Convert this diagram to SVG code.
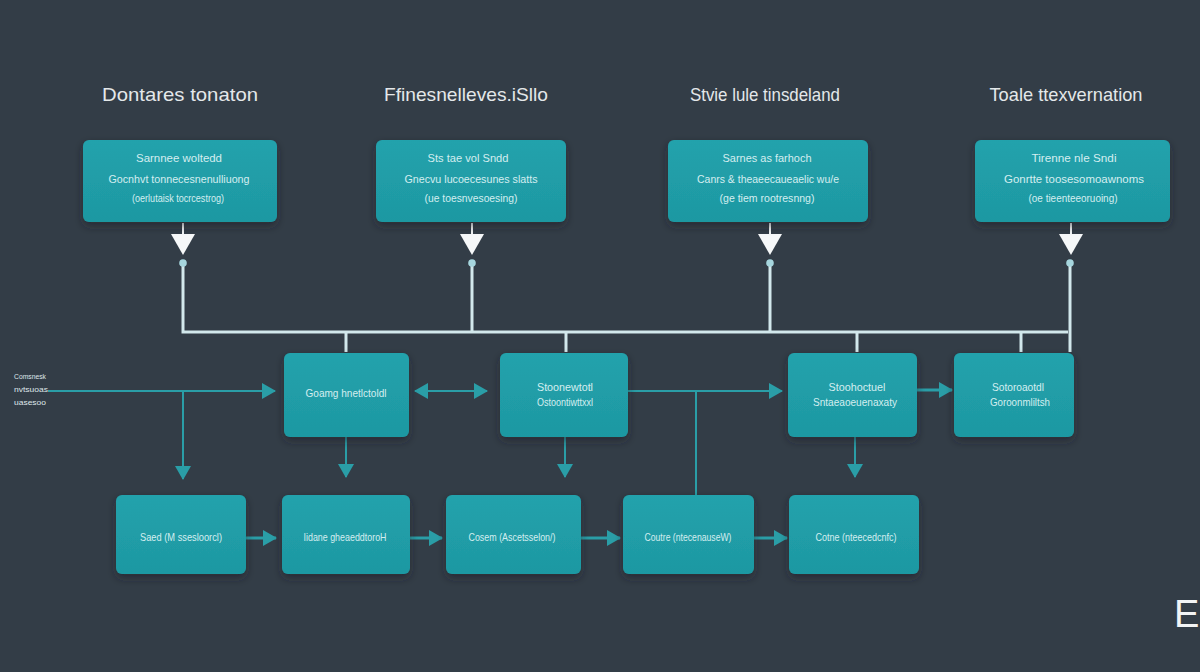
<svg xmlns="http://www.w3.org/2000/svg" width="1200" height="672" viewBox="0 0 1200 672">
<style>
.bg{fill:#333d47}
.box{fill:url(#tg);filter:url(#sh)}
.h{font-family:"Liberation Sans",Arial,sans-serif;font-size:19px;fill:#e4e8ea;text-anchor:middle}
.t{font-family:"Liberation Sans",Arial,sans-serif;font-size:11px;fill:#d4eef0;text-anchor:middle}
.s{font-family:"Liberation Sans",Arial,sans-serif;font-size:8px;fill:#dfe6ea}
.tl{stroke:#2a9ea7;stroke-width:2;fill:none}
.tb{stroke:#2a9ea7;stroke-width:3;fill:none}
.wl{stroke:#d2e8ec;stroke-width:3;fill:none}
.ws{stroke:#f2f5f6;stroke-width:2;fill:none}
.head{fill:#f6f8f9}
.dot{fill:#a6d6de}
</style>
<defs>
<linearGradient id="tg" x1="0" y1="0" x2="0" y2="1">
<stop offset="0" stop-color="#22a2ac"/>
<stop offset="1" stop-color="#1e98a2"/>
</linearGradient>
<filter id="sh" x="-20%" y="-20%" width="140%" height="150%">
<feDropShadow dx="0" dy="4" stdDeviation="4" flood-color="#1a2028" flood-opacity="0.55"/>
</filter>
<marker id="ah" viewBox="0 0 14 16" refX="13" refY="8" markerWidth="14" markerHeight="16" markerUnits="userSpaceOnUse" orient="auto-start-reverse">
<path d="M0,0 L14,8 L0,16 z" fill="#2a9ea7"/>
</marker>
</defs>
<rect class="bg" x="0" y="0" width="1200" height="672"/>

<g id="headings">
<text class="h" x="180" y="101" textLength="156" lengthAdjust="spacingAndGlyphs">Dontares tonaton</text>
<text class="h" x="466" y="101" textLength="164" lengthAdjust="spacingAndGlyphs">Ffinesnelleves.iSllo</text>
<text class="h" x="765" y="101" textLength="150" lengthAdjust="spacingAndGlyphs">Stvie lule tinsdeland</text>
<text class="h" x="1066" y="101" textLength="153" lengthAdjust="spacingAndGlyphs">Toale ttexvernation</text>
</g>

<g id="connectors">
<g>
<line class="ws" x1="183" y1="223" x2="183" y2="236"/>
<polygon class="head" points="171,234 195,234 183,255"/>
<line class="ws" x1="472" y1="223" x2="472" y2="236"/>
<polygon class="head" points="460,234 484,234 472,255"/>
<line class="ws" x1="770" y1="223" x2="770" y2="236"/>
<polygon class="head" points="758,234 782,234 770,255"/>
<line class="ws" x1="1071" y1="223" x2="1071" y2="236"/>
<polygon class="head" points="1059,234 1083,234 1071,255"/>
</g>
<path class="wl" d="M183,263 V332 H1068"/>
<line class="wl" x1="472" y1="263" x2="472" y2="332"/>
<line class="wl" x1="770" y1="263" x2="770" y2="332"/>
<line class="wl" x1="1070" y1="263" x2="1070" y2="352"/>
<line class="wl" x1="346" y1="332" x2="346" y2="352"/>
<line class="wl" x1="566" y1="332" x2="566" y2="352"/>
<line class="wl" x1="857" y1="332" x2="857" y2="352"/>
<line class="wl" x1="1021" y1="332" x2="1021" y2="352"/>
<circle class="dot" cx="183" cy="263" r="3.8"/>
<circle class="dot" cx="472" cy="263" r="3.8"/>
<circle class="dot" cx="770" cy="263" r="3.8"/>
<circle class="dot" cx="1070" cy="263" r="3.8"/>

<line class="tl" x1="48" y1="391" x2="275" y2="391" marker-end="url(#ah)"/>
<line class="tl" x1="183" y1="391" x2="183" y2="479" marker-end="url(#ah)"/>
<line class="tl" x1="415" y1="391" x2="487" y2="391" marker-start="url(#ah)" marker-end="url(#ah)"/>
<line class="tl" x1="628" y1="391" x2="782" y2="391" marker-end="url(#ah)"/>
<line class="tl" x1="696" y1="391" x2="696" y2="495"/>
<line class="tb" x1="917" y1="390" x2="952" y2="390" marker-end="url(#ah)"/>
<line class="tl" x1="346" y1="437" x2="346" y2="477" marker-end="url(#ah)"/>
<line class="tl" x1="565" y1="437" x2="565" y2="477" marker-end="url(#ah)"/>
<line class="tl" x1="855" y1="437" x2="855" y2="477" marker-end="url(#ah)"/>
<line class="tb" x1="246" y1="538" x2="276" y2="538" marker-end="url(#ah)"/>
<line class="tb" x1="410" y1="538" x2="442" y2="538" marker-end="url(#ah)"/>
<line class="tb" x1="581" y1="538" x2="620" y2="538" marker-end="url(#ah)"/>
<line class="tb" x1="754" y1="538" x2="787" y2="538" marker-end="url(#ah)"/>
</g>

<g id="input-label">
<text class="s" x="14" y="379" textLength="32" lengthAdjust="spacingAndGlyphs">Comsnesk</text>
<text class="s" x="14" y="392" textLength="34" lengthAdjust="spacingAndGlyphs">nvtsuoas</text>
<text class="s" x="14" y="405" textLength="32" lengthAdjust="spacingAndGlyphs">uasesoo</text>
</g>

<g id="top1">
<rect class="box" x="83" y="140" width="194" height="82" rx="6"/>
<text class="t" x="179" y="162" textLength="86" lengthAdjust="spacingAndGlyphs">Sarnnee woltedd</text>
<text class="t" x="179" y="183" textLength="141" lengthAdjust="spacingAndGlyphs">Gocnhvt tonnecesnenulliuong</text>
<text class="t" x="178" y="202" textLength="92" lengthAdjust="spacingAndGlyphs">(oerlutaisk tocrcestrog)</text>
</g>
<g id="top2">
<rect class="box" x="376" y="140" width="190" height="82" rx="6"/>
<text class="t" x="468" y="162" textLength="81" lengthAdjust="spacingAndGlyphs">Sts tae vol Sndd</text>
<text class="t" x="471" y="183" textLength="133" lengthAdjust="spacingAndGlyphs">Gnecvu lucoecesunes slatts</text>
<text class="t" x="471" y="202" textLength="93" lengthAdjust="spacingAndGlyphs">(ue toesnvesoesing)</text>
</g>
<g id="top3">
<rect class="box" x="668" y="140" width="200" height="82" rx="6"/>
<text class="t" x="767" y="162" textLength="89" lengthAdjust="spacingAndGlyphs">Sarnes as farhoch</text>
<text class="t" x="768" y="183" textLength="142" lengthAdjust="spacingAndGlyphs">Canrs &amp; theaeecaueaelic wu/e</text>
<text class="t" x="767" y="202" textLength="95" lengthAdjust="spacingAndGlyphs">(ge tiem rootresnng)</text>
</g>
<g id="top4">
<rect class="box" x="975" y="140" width="195" height="82" rx="6"/>
<text class="t" x="1074" y="162" textLength="85" lengthAdjust="spacingAndGlyphs">Tirenne nle Sndi</text>
<text class="t" x="1074" y="183" textLength="140" lengthAdjust="spacingAndGlyphs">Gonrtte toosesomoawnoms</text>
<text class="t" x="1073" y="202" textLength="89" lengthAdjust="spacingAndGlyphs">(oe tieenteeoruoing)</text>
</g>

<g id="mid1">
<rect class="box" x="284" y="353" width="125" height="84" rx="6"/>
<text class="t" x="346" y="397" textLength="81" lengthAdjust="spacingAndGlyphs">Goamg hnetlctoldl</text>
</g>
<g id="mid2">
<rect class="box" x="500" y="353" width="128" height="84" rx="6"/>
<text class="t" x="565" y="391" textLength="56" lengthAdjust="spacingAndGlyphs">Stoonewtotl</text>
<text class="t" x="565" y="406" textLength="56" lengthAdjust="spacingAndGlyphs">Ostoontiwttxxl</text>
</g>
<g id="mid3">
<rect class="box" x="788" y="353" width="129" height="84" rx="6"/>
<text class="t" x="857" y="391" textLength="57" lengthAdjust="spacingAndGlyphs">Stoohoctuel</text>
<text class="t" x="855" y="406" textLength="84" lengthAdjust="spacingAndGlyphs">Sntaeaoeuenaxaty</text>
</g>
<g id="mid4">
<rect class="box" x="954" y="353" width="120" height="84" rx="6"/>
<text class="t" x="1018" y="391" textLength="52" lengthAdjust="spacingAndGlyphs">Sotoroaotdl</text>
<text class="t" x="1020" y="406" textLength="60" lengthAdjust="spacingAndGlyphs">Goroonmliltsh</text>
</g>

<g id="bot1">
<rect class="box" x="116" y="495" width="130" height="79" rx="6"/>
<text class="t" x="181" y="541" textLength="82" lengthAdjust="spacingAndGlyphs">Saed (M ssesloorcl)</text>
</g>
<g id="bot2">
<rect class="box" x="282" y="495" width="128" height="79" rx="6"/>
<text class="t" x="345" y="541" textLength="83" lengthAdjust="spacingAndGlyphs">Iidane gheaeddtoroH</text>
</g>
<g id="bot3">
<rect class="box" x="446" y="495" width="135" height="79" rx="6"/>
<text class="t" x="512" y="541" textLength="87" lengthAdjust="spacingAndGlyphs">Cosem (Ascetsselon/)</text>
</g>
<g id="bot4">
<rect class="box" x="623" y="495" width="131" height="79" rx="6"/>
<text class="t" x="688" y="541" textLength="87" lengthAdjust="spacingAndGlyphs">Coutre (ntecenauseW)</text>
</g>
<g id="bot5">
<rect class="box" x="789" y="495" width="130" height="79" rx="6"/>
<text class="t" x="856" y="541" textLength="81" lengthAdjust="spacingAndGlyphs">Cotne (nteecedcnfc)</text>
</g>

<text x="1174" y="627" font-family="Liberation Sans, Arial, sans-serif" font-size="38" fill="#f2f4f5">E</text>
</svg>
